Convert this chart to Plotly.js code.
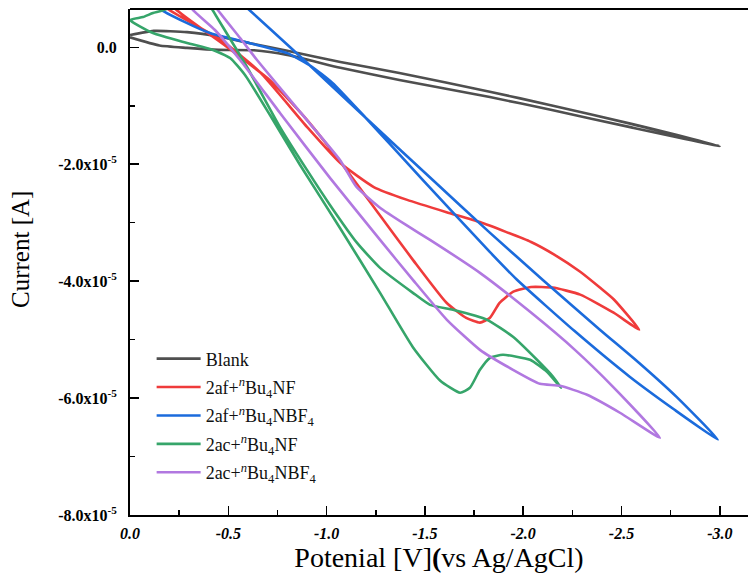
<!DOCTYPE html>
<html>
<head>
<meta charset="utf-8">
<script src="https://cdn.plot.ly/plotly-3.0.1.min.js"></script>
<style>html,body{margin:0;padding:0;overflow:hidden;background:#fff;}</style>
</head>
<body>
<div id="chart" style="width:748px;height:577px;"></div>
<script>
// Potential (V vs Ag/AgCl) and current (units of 1e-5 A)
const blankV = [0, -0.15, -0.29, -0.45, -0.63, -0.80, -1.07, -1.37, -1.83, -2.14, -2.55, -3.0,
                -2.55, -2.14, -1.83, -1.37, -1.07, -0.80, -0.61, -0.46, -0.29, -0.12, 0];
const blankI = [0.17, 0.03, -0.01, -0.045, -0.05, -0.13, -0.35, -0.56, -0.85, -1.07, -1.37, -1.69,
                -1.31, -0.99, -0.76, -0.44, -0.25, -0.06, 0.07, 0.18, 0.26, 0.28, 0.21];

const afNFV = [-0.10, -0.23, -0.48, -0.71, -0.90, -1.07, -1.27, -1.44, -1.61, -1.71, -1.78, -1.83, -1.88, -1.95, -2.04, -2.15, -2.29, -2.46, -2.59,
               -2.46, -2.39, -2.29, -2.16, -2.04, -1.78, -1.61, -1.41, -1.24, -1.07, -0.90, -0.66, -0.46, -0.19, -0.05];
const afNFI = [1.24, 0.66, 0.04, -0.56, -1.24, -1.96, -2.87, -3.64, -4.37, -4.63, -4.71, -4.63, -4.37, -4.18, -4.10, -4.11, -4.23, -4.54, -4.83,
               -4.31, -4.11, -3.84, -3.55, -3.33, -2.99, -2.82, -2.61, -2.39, -1.98, -1.36, -0.42, 0.13, 0.66, 1.07];

const afBF4V = [-0.10, -0.15, -0.28, -0.41, -0.61, -0.80, -0.92, -1.03, -1.20, -1.49, -1.83, -1.97, -2.26, -2.54, -2.77, -2.99,
                -2.78, -2.59, -2.39, -2.10, -1.83, -1.54, -1.20, -0.87, -0.60, -0.51];
const afBF4I = [0.86, 0.66, 0.43, 0.24, 0.07, -0.10, -0.32, -0.61, -1.21, -2.27, -3.50, -3.98, -4.85, -5.63, -6.20, -6.71,
                -5.98, -5.40, -4.83, -3.98, -3.17, -2.27, -1.21, -0.17, 0.66, 0.93];

const acNFV = [0, -0.117, -0.29, -0.422, -0.509, -0.585, -0.712, -0.865, -1.068, -1.272, -1.439, -1.577, -1.679, -1.729, -1.78, -1.831, -1.897, -2.035, -2.121, -2.192,
               -2.152, -2.07, -1.948, -1.816, -1.643, -1.526, -1.439, -1.272, -1.155, -1.017, -0.90, -0.763, -0.595, -0.417, -0.331, -0.188, -0.117, -0.066, 0];
const acNFI = [0.467, 0.244, 0.074, -0.046, -0.183, -0.474, -1.159, -2.013, -3.09, -4.20, -5.13, -5.70, -5.909, -5.824, -5.516, -5.311, -5.26, -5.345, -5.55, -5.824,
               -5.636, -5.345, -4.952, -4.662, -4.491, -4.405, -4.20, -3.773, -3.346, -2.696, -2.097, -1.364, -0.337, 0.655, 1.15, 0.655, 0.586, 0.518, 0.467];

const acBF4V = [-0.203, -0.315, -0.432, -0.56, -0.763, -1.017, -1.272, -1.439, -1.612, -1.78, -1.948, -2.085, -2.187, -2.325, -2.492, -2.696,
                -2.457, -2.263, -2.035, -1.78, -1.526, -1.40, -1.27, -1.15, -1.068, -0.865, -0.646, -0.56, -0.443, -0.381];
const acBF4I = [1.236, 0.655, 0.296, -0.217, -1.123, -2.234, -3.294, -3.978, -4.662, -5.175, -5.516, -5.756, -5.79, -5.944, -6.251, -6.679,
                -5.807, -5.175, -4.525, -3.858, -3.294, -3.03, -2.74, -2.38, -1.926, -1.106, -0.217, 0.159, 0.655, 0.979];

const seriesNames = ["Blank",
  "2af+<sup><i>n</i></sup>Bu<sub>4</sub>NF",
  "2af+<sup><i>n</i></sup>Bu<sub>4</sub>NBF<sub>4</sub>",
  "2ac+<sup><i>n</i></sup>Bu<sub>4</sub>NF",
  "2ac+<sup><i>n</i></sup>Bu<sub>4</sub>NBF<sub>4</sub>"];
const seriesColors = ["#4f4f4f", "#ef3b3b", "#1b6bdc", "#36a56a", "#b178e0"];

const xTickVals = [0, -0.5, -1.0, -1.5, -2.0, -2.5, -3.0];
const xTickText = ["0.0", "-0.5", "-1.0", "-1.5", "-2.0", "-2.5", "-3.0"];
const yTickVals = [0, -2e-5, -4e-5, -6e-5, -8e-5];
const yTickText = ["0.0", "-2.0x10<sup>-5</sup>", "-4.0x10<sup>-5</sup>", "-6.0x10<sup>-5</sup>", "-8.0x10<sup>-5</sup>"];

const xs = [blankV, afNFV, afBF4V, acNFV, acBF4V];
const ys = [blankI, afNFI, afBF4I, acNFI, acBF4I];

const traces = xs.map((xv, i) => ({
  x: xv,
  y: ys[i].map(v => v * 1e-5),
  type: 'scatter',
  mode: 'lines',
  name: seriesNames[i],
  legendgroup: 'g' + i,
  line: {color: seriesColors[i], width: 2.6, shape: 'spline', smoothing: 0.5}
}));

const serif = '"Liberation Serif"';

const layout = {
  width: 748, height: 577,
  margin: {l: 130, r: 0, t: 9, b: 62},
  font: {family: serif, color: '#000'},
  paper_bgcolor: '#fff', plot_bgcolor: '#fff',
  showlegend: true,
  legend: {x: 0.035, y: 0.345, xanchor: 'left', yanchor: 'top', bgcolor: 'rgba(0,0,0,0)',
           font: {family: serif, size: 18, color: '#111'}, tracegroupgap: 2, itemwidth: 44,
           traceorder: 'grouped'},
  xaxis: {
    range: [0, -3.1435], showgrid: false, zeroline: false,
    showline: true, linecolor: '#000', linewidth: 2,
    ticks: 'inside', ticklen: 9, tickwidth: 1.5, tickcolor: '#000',
    tickvals: xTickVals, ticktext: xTickText.map(t => '<b><i>' + t + '</i></b>'),
    tickfont: {family: serif, size: 16, color: '#000'}, ticklabelstandoff: 3,
    minor: {ticks: 'inside', ticklen: 5, tickwidth: 1.5, tickcolor: '#000', dtick: 0.25, tick0: 0, showgrid: false},
    title: {text: 'Potenial [V]<b>(</b>vs Ag/AgCl)', font: {family: serif, size: 28, color: '#000'}, standoff: 5}
  },
  yaxis: {
    range: [-8e-5, 0.655e-5], showgrid: false, zeroline: false,
    showline: true, linecolor: '#000', linewidth: 2,
    ticks: 'inside', ticklen: 9, tickwidth: 1.5, tickcolor: '#000',
    tickvals: yTickVals, ticktext: yTickText.map(t => '<b>' + t + '</b>'),
    tickfont: {family: serif, size: 16, color: '#000'}, ticklabelstandoff: 8,
    minor: {ticks: 'inside', ticklen: 5, tickwidth: 1.5, tickcolor: '#000', dtick: 1e-5, tick0: 0, showgrid: false}
  },
  annotations: [{text: 'Current [A]', textangle: -90, xref: 'paper', yref: 'paper',
                 x: -0.1764, y: 0.5257, xanchor: 'center', yanchor: 'middle', showarrow: false,
                 font: {family: serif, size: 25, color: '#000'}}],
  shapes: [{type: 'line', xref: 'paper', yref: 'paper', x0: 0, x1: 1, y0: 1, y1: 1,
            line: {color: '#000', width: 2}}]
};

Plotly.newPlot('chart', traces, layout, {displayModeBar: false, staticPlot: true});
</script>
</body>
</html>
